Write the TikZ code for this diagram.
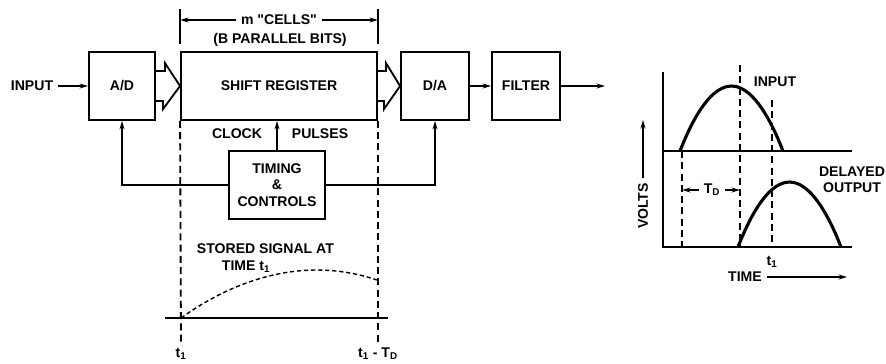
\documentclass[tikz,border=0pt]{standalone}
\usepackage{fontspec}
\setmainfont{Liberation Sans}
\usetikzlibrary{arrows.meta,calc}

\begin{document}
\begin{tikzpicture}[x=0.025cm, y=-0.025cm,
    font=\fontsize{10}{11.5}\selectfont\bfseries,
    >={Stealth[length=6pt,width=3.5pt]},
    block/.style={draw, line width=1.3pt, minimum width=1.7cm, minimum height=1.7cm, align=center},
    wire/.style={line width=1.3pt},
    cut/.style={line width=1.3pt, dash pattern=on 5pt off 3pt},
    wave/.style={line width=2.2pt}]

    \useasboundingbox (0,0) rectangle (886,363);

    % --- Nodes ---

    % 1. Input and converter
    \node (input) at (32,86) {INPUT};
    \node[block, minimum width=1.65cm] (ad) at (122,86) {A/D};

    % 2. Shift register with its labels
    \node[block, minimum width=4.9cm] (sr) at (279,86) {SHIFT REGISTER};
    \node (cells) at (279,20) {m \textquotedbl CELLS\textquotedbl};
    \node (bits) at (280,40) {(B PARALLEL BITS)};
    \node (clock) at (237,134) {CLOCK};
    \node (pulses) at (320,134) {PULSES};

    % 3. Output side
    \node[block] (da) at (435,86) {D/A};
    \node[block] (filter) at (526,86) {FILTER};
    \coordinate (out) at (605,86);

    % 4. Timing & controls
    \node[block, minimum width=2.4cm] (timing) at (277,185) {TIMING\\\&\\CONTROLS};

    % 5. Stored signal sketch
    \node[anchor=west] (stored) at (192,249) {STORED SIGNAL AT};
    \node[anchor=west] (timet) at (217,267) {TIME t\textsubscript{1}};
    \node (tone) at (181,354) {t\textsubscript{1}};
    \node (tlast) at (378,354) {t\textsubscript{1} - T\textsubscript{D}};
    \coordinate (base0) at (165,318);
    \coordinate (base1) at (388,318);

    % --- Arrows ---

    % Signal path
    \draw[wire, ->] (input) -- (ad);
    \draw[wire] ($(ad.east)+(0,-15)$) -- ++(9,0) -- ++(0,-8) -- (sr.west)
        -- ++(-17,23) -- ++(0,-8) -- ($(ad.east)+(0,15)$);
    \draw[wire] ($(sr.east)+(0,-15)$) -- ++(8,0) -- ++(0,-8) -- (da.west)
        -- ++(-16,23) -- ++(0,-8) -- ($(sr.east)+(0,15)$);
    \draw[wire, ->] (da) -- (filter);
    \draw[wire, ->] (filter) -- (out);

    % Clock and control lines
    \draw[wire, ->] (timing.north) -- (timing.north |- sr.south);
    \draw[wire, ->] (timing.west) -| (ad.south);
    \draw[wire, ->] (timing.east) -| (da.south);

    % Length of the register
    \draw[wire] ($(sr.north west)+(0,-7)$) -- ($(sr.north west)+(0,-42)$);
    \draw[wire] ($(sr.north east)+(0,-7)$) -- ($(sr.north east)+(0,-42)$);
    \draw[wire, ->] (cells.west) -- (cells.west -| sr.west);
    \draw[wire, ->] (cells.east) -- (cells.east -| sr.east);

    % Time marks and stored signal
    \draw[cut] (sr.south west) -- (tone.north);
    \draw[cut] (sr.south east) -- (sr.south east |- tlast.north);
    \draw[wire] (base0) -- (base1);
    \draw[line width=1pt, dash pattern=on 3pt off 2pt] (181,318) parabola bend (317,270) (377,280);

    % --- Waveforms (right) ---
    \coordinate (origin) at (663,247);
    \coordinate (vtop) at (663,72);
    \coordinate (hend) at (852,247);
    \coordinate (mid0) at (663,151);
    \coordinate (mid1) at (852,151);
    \draw[wire] (vtop) -- (origin) -- (hend);
    \draw[wire] (mid0) -- (mid1);
    \draw[wave] (680,151) parabola bend (731.5,86) (783,151);
    \draw[wave] (738,247) parabola bend (789.5,182) (841,247);
    \draw[cut] (740,65) -- (740,247);
    \draw[cut] (772,100) -- (772,247);
    \draw[cut] (682,151) -- (682,247);

    \node (inlbl) at (775,82) {INPUT};
    \node[align=center] (dellbl) at (852,180) {DELAYED\\OUTPUT};
    \node (td) at (712,190) {T\textsubscript{D}};
    \coordinate (tda) at (682,190);
    \coordinate (tdb) at (740,190);
    \draw[wire, ->] (td.west) -- (tda);
    \draw[wire, ->] (td.east) -- (tdb);
    \node (tmark) at (772,262) {t\textsubscript{1}};
    \node (time) at (745,277) {TIME};
    \coordinate (timeend) at (847,277);
    \draw[wire, ->] (time.east) -- (timeend);
    \node[rotate=90] (volts) at (643,206) {VOLTS};
    \coordinate (voltsend) at (646,120);
    \draw[wire, ->] (volts.east) -- (volts.east |- voltsend);

\end{tikzpicture}
\end{document}
